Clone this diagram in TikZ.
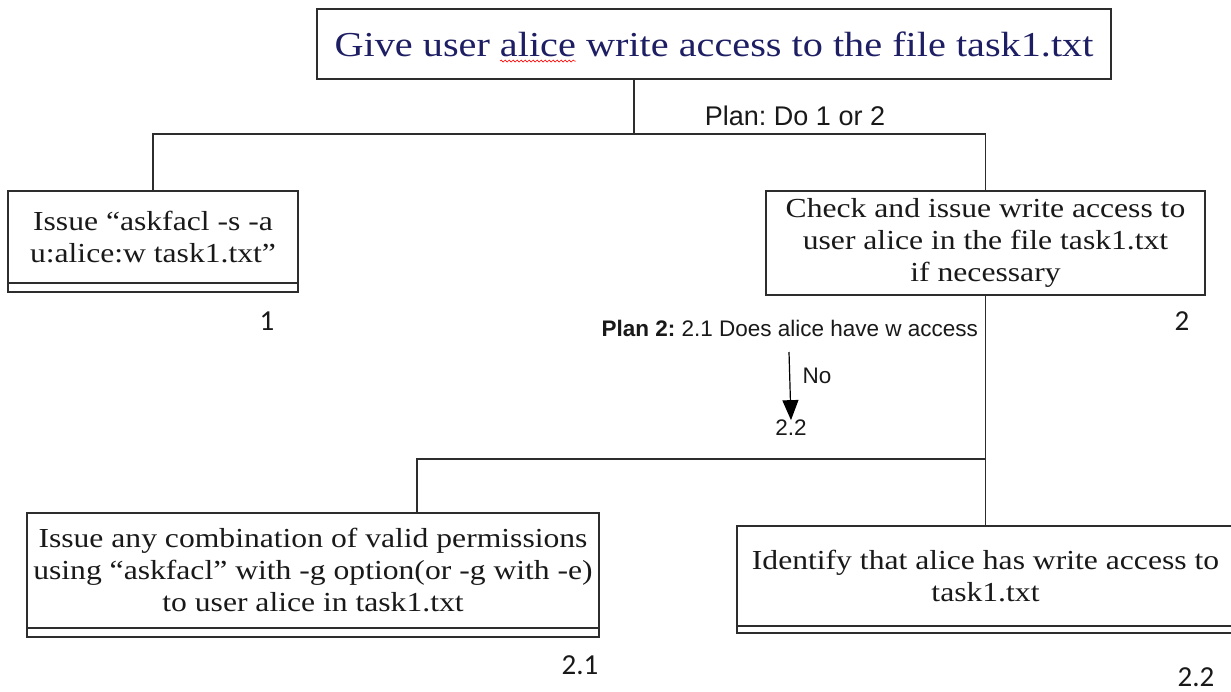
\documentclass[tikz,border=0pt]{standalone}
\usepackage{fontspec}
\setmainfont{Liberation Serif}[FakeStretch=1.15]
\newfontfamily\labelsans{Liberation Sans}
\newfontfamily\numfont{Carlito}
\usetikzlibrary{arrows.meta,decorations.pathmorphing}
\definecolor{navy}{RGB}{30,30,100}
\definecolor{edge}{RGB}{45,45,45}
\definecolor{ink}{RGB}{25,25,25}
\newcommand\goalfont{\fontsize{35}{40}\selectfont}
\newlength\goalwd
\newlength\goalpre
\newlength\goalword
\newlength\wavestart
\frenchspacing

\begin{document}
% spell-check wave position under "alice"
\settowidth\goalwd{\goalfont Give user alice write access to the file task1.txt}
\settowidth\goalpre{\goalfont Give user }
\settowidth\goalword{\goalfont alice}
\setlength\wavestart{\dimexpr\goalpre-0.5\goalwd\relax}
\begin{tikzpicture}[x=1pt,y=-1pt,
  every node/.style={inner sep=0pt, outer sep=0pt},
  task/.style={draw=edge, line width=1.2pt, align=center, text=ink,
    font=\fontsize{27.5}{32}\selectfont},
  link/.style={draw=edge, line width=1.2pt},
  tasknum/.style={font=\numfont\fontsize{29}{29}\selectfont, text=ink},
  plannote/.style={font=\labelsans\fontsize{22.5}{24}\selectfont, text=ink}]

\useasboundingbox (0,0) rectangle (1231,692);
\fill[white] (0,0) rectangle (1231,692);

% goal
\node[task, minimum width=794pt, minimum height=70pt, text=navy,
  font=\goalfont] (goal) at (714,44)
  {Give user alice write access to the file task1.txt};
\draw[red, line width=0.6pt, decorate,
  decoration={snake, amplitude=1pt, segment length=4pt}]
  ([xshift=\wavestart, yshift=-5pt]goal.base) -- ++(\goalword,0);

% level 1
\node[task, minimum width=290pt, minimum height=92pt] (t1) at (153,237)
  {Issue “askfacl -s -a\\u:alice:w task1.txt”};
\draw[link] (t1.south west) -- ++(0,9) -| (t1.south east);

\node[task, minimum width=439pt, minimum height=104pt] (t2) at (985.5,243)
  {Check and issue write access to\\user alice in the file task1.txt\\if necessary};

% level 2
\node[task, minimum width=572pt, minimum height=115pt] (t21) at (313,570.5)
  {Issue any combination of valid permissions\\using “askfacl” with -g option(or -g with -e)\\to user alice in task1.txt};
\draw[link] (t21.south west) -- ++(0,9) -| (t21.south east);

\node[task, minimum width=497pt, minimum height=100pt] (t22) at (985.5,576)
  {Identify that alice has write access to\\task1.txt};
\draw[link] (t22.south west) -- ++(0,7) -| (t22.south east);

% plan connectors
\coordinate (j1) at (634,134);
\draw[link] (goal.south -| j1) -- (j1);
\draw[link] (t1.north) |- (j1) -| (t2.north);

\coordinate (j3) at (417,459);
\draw[link] (t2.south) -- (t22.north);
\draw[link] (j3 |- t21.north) |- (t2.south |- j3);

% plan labels
\node[plannote, font=\labelsans\fontsize{27}{27}\selectfont] (plan0) at (795,116) {Plan: Do 1 or 2};
\node[plannote, anchor=east] (plan2) at (978,328) {\textbf{Plan 2:} 2.1 Does alice have w access};
\coordinate (arrtop) at (789,352);
\node[plannote] (next) at (791,428) {2.2};
\draw[black, line width=1.2pt, -{Triangle[width=16pt,length=20pt]}] (arrtop) -- (next.north);
\node[plannote] (nolbl) at (817,376) {No};

% task numbers
\node[tasknum] (n1) at (267,321) {1};
\node[tasknum] (n2) at (1182,321) {2};
\node[tasknum] (n21) at (580,665) {2.1};
\node[tasknum] (n22) at (1196,677) {2.2};
\end{tikzpicture}
\end{document}
